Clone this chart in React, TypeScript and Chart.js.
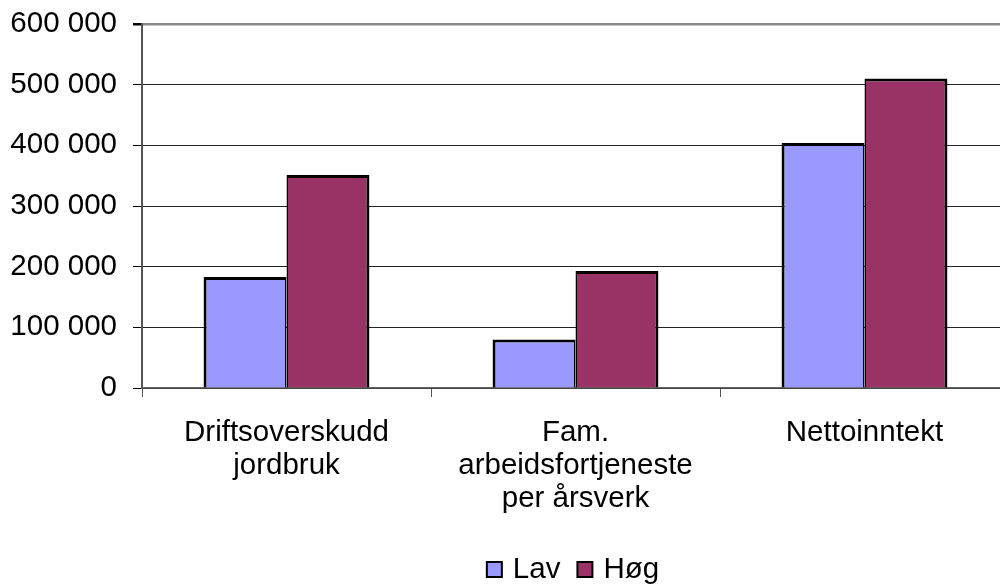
import React, { useEffect, useRef } from 'react';
import { Chart, registerables } from 'chart.js';

Chart.register(...registerables);

const categories: string[][] = [
  ['Driftsoverskudd', 'jordbruk'],
  ['Fam.', 'arbeidsfortjeneste', 'per årsverk'],
  ['Nettoinntekt'],
];
const seriesNames = ['Lav', 'Høg'];
const lavValues = [183000, 80000, 404000];
const hogValues = [351000, 193000, 510000];
const yMin = 0;
const yMax = 600000;
const yStep = 100000;

const FONT = "'Liberation Sans', Arial, sans-serif";
const FONT_SIZE = 29.5;

function fmt(v: number): string {
  return String(v).replace(/\B(?=(\d{3})+(?!\d))/g, ' ');
}

const customLegend = {
  id: 'customLegend',
  afterDraw(chart: any) {
    const ctx = chart.ctx;
    const ds = chart.data.datasets;
    ctx.save();
    ctx.font = `${FONT_SIZE}px ${FONT}`;
    ctx.textBaseline = 'middle';
    ctx.textAlign = 'left';
    const box = 15;
    const gapText = 11;
    const gapItem = 17;
    const widths = ds.map((d: any) => ctx.measureText(d.label).width);
    let total = 0;
    widths.forEach((w: number, i: number) => {
      total += box + gapText + w + (i < widths.length - 1 ? gapItem : 0);
    });
    let x = chart.width / 2 - total / 2;
    const cy = 569.5;
    ds.forEach((d: any, i: number) => {
      ctx.fillStyle = d.backgroundColor;
      ctx.fillRect(x, cy - box / 2, box, box);
      ctx.strokeStyle = '#000000';
      ctx.lineWidth = 2;
      ctx.strokeRect(x, cy - box / 2, box, box);
      ctx.fillStyle = '#000000';
      ctx.fillText(d.label, x + box + gapText, cy);
      x += box + gapText + widths[i] + gapItem;
    });
    ctx.restore();
  },
};

export default function App() {
  const ref = useRef<HTMLCanvasElement | null>(null);

  useEffect(() => {
    document.body.style.margin = '0';
    document.body.style.overflow = 'hidden';
    const canvas = ref.current;
    if (!canvas) return;
    const chart = new Chart(canvas, {
      type: 'bar',
      data: {
        labels: categories,
        datasets: [
          {
            label: seriesNames[0],
            data: lavValues,
            backgroundColor: '#9999FF',
            borderColor: '#000000',
            borderWidth: { top: 3, left: 3, right: 1.5, bottom: 0 },
            borderSkipped: false,
          },
          {
            label: seriesNames[1],
            data: hogValues,
            backgroundColor: '#993366',
            borderColor: '#000000',
            borderWidth: { top: 3, left: 1.5, right: 3, bottom: 0 },
            borderSkipped: false,
          },
        ],
      },
      options: {
        responsive: false,
        animation: false,
        layout: { padding: { top: 24, right: 137, left: 0, bottom: 38 } },
        datasets: {
          bar: { categoryPercentage: 0.574, barPercentage: 1 },
        },
        scales: {
          x: {
            afterFit: (s: any) => {
              s.height = 158;
              s.paddingLeft = 0;
              s.paddingRight = 0;
            },
            grid: {
              drawOnChartArea: false,
              drawTicks: true,
              tickLength: 9,
              color: '#555555',
              lineWidth: 1,
              offset: true,
            },
            border: { color: '#666666', width: 1.5 },
            ticks: {
              color: '#000000',
              font: { family: FONT, size: FONT_SIZE, lineHeight: 1.12 },
              padding: 19,
              maxRotation: 0,
            },
          },
          y: {
            min: yMin,
            max: yMax,
            afterFit: (s: any) => {
              s.width = 142;
              s.paddingTop = 0;
              s.paddingBottom = 0;
            },
            grid: {
              color: (ctx: any) => (ctx.tick && ctx.tick.value === yMax ? '#888888' : '#222222'),
              lineWidth: (ctx: any) => (ctx.tick && ctx.tick.value === yMax ? 2.5 : 1),
              tickColor: '#000000',
              tickLength: 9,
              drawTicks: true,
            },
            border: { color: '#555555', width: 2 },
            ticks: {
              stepSize: yStep,
              color: '#000000',
              font: { family: FONT, size: FONT_SIZE },
              padding: 16,
              callback: (v: any) => fmt(Number(v)),
            },
          },
        },
        plugins: {
          legend: { display: false },
          tooltip: { enabled: false },
        },
      } as any,
      plugins: [customLegend],
    });
    return () => chart.destroy();
  }, []);

  return (
    <div style={{ width: 1146, height: 584 }}>
      <canvas ref={ref} width={1146} height={584} />
    </div>
  );
}
